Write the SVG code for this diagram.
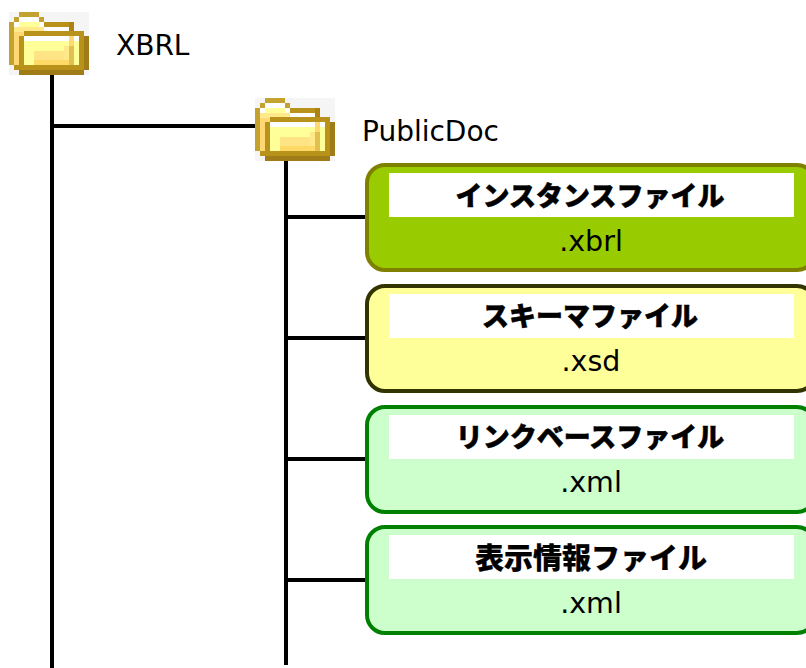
<svg xmlns="http://www.w3.org/2000/svg" width="806" height="668" viewBox="0 0 806 668">
<style>
.t{font-family:"DejaVu Sans","Noto Sans CJK JP",sans-serif;fill:#000}
.n{font-size:28px}
.e{font-size:28.5px;text-anchor:middle}
.h{font-family:"Noto Sans CJK JP",sans-serif;font-weight:900;font-size:27px;text-anchor:middle;fill:#000;stroke:#000;stroke-width:.5px}
.k{font-size:29px;stroke-width:.2px}
.w{stroke:#000;stroke-width:4;fill:none}
.b{stroke-width:4}
.g1{fill:#9c0;stroke:#808000}
.g2{fill:#ff9;stroke:#333300}
.g3{fill:#cfc;stroke:#008000}
</style>
<defs>
<g id="folder" shape-rendering="crispEdges">
<rect x="9" y="12" width="80" height="63" fill="#f5f5f5"/>
<rect x="9" y="22" width="5" height="43" fill="#c4a230"/>
<rect x="14" y="27" width="30" height="5" fill="#ffe98a"/>
<rect x="14" y="32" width="10" height="33" fill="#ffd873"/>
<rect x="19" y="12" width="20" height="5" fill="#c4a230"/>
<rect x="14" y="17" width="5" height="5" fill="#c4a230"/>
<rect x="39" y="17" width="5" height="5" fill="#c4a230"/>
<rect x="19" y="17" width="20" height="5" fill="#fff"/>
<rect x="14" y="22" width="5" height="5" fill="#fff"/>
<rect x="39" y="22" width="5" height="5" fill="#fff"/>
<rect x="19" y="22" width="20" height="5" fill="#ffff99"/>
<rect x="44" y="22" width="25" height="5" fill="#b8921a"/>
<rect x="69" y="22" width="5" height="9" fill="#ad8210"/>
<rect x="44" y="27" width="25" height="4" fill="#fff"/>
<rect x="24" y="31" width="60" height="5" fill="#b8921a"/>
<rect x="19" y="36" width="5" height="29" fill="#b8921a"/>
<rect x="79" y="36" width="5" height="29" fill="#b8921a"/>
<rect x="24" y="36" width="55" height="29" fill="#ffff99"/>
<rect x="24" y="36" width="45" height="5" fill="#fff"/>
<rect x="74" y="36" width="5" height="5" fill="#fff"/>
<rect x="69" y="36" width="5" height="10" fill="#ffd873"/>
<rect x="69" y="46" width="5" height="19" fill="#e0c050"/>
<rect x="64" y="46" width="5" height="14" fill="#ffe98a"/>
<rect x="34" y="51" width="30" height="9" fill="#ffe485"/>
<rect x="34" y="60" width="35" height="5" fill="#ffd965"/>
<rect x="14" y="65" width="70" height="5" fill="#b8921a"/>
<rect x="84" y="36" width="5" height="34" fill="#a07c18"/>
<rect x="19" y="70" width="65" height="5" fill="#a07c18"/>
</g>
</defs>
<g id="connectors">
<path class="w" d="M52 72V668M52 126H256M286 160V665M286 217H366M286 338H366M286 459H366M286 580H366"/>
</g>
<g id="xbrl"><use href="#folder"/><text class="t n" x="116" y="55">XBRL</text></g>
<g id="publicdoc"><use href="#folder" x="246" y="86"/><text class="t n" x="362" y="141">PublicDoc</text></g>
<g id="instance">
<rect class="b g1" x="367" y="165" width="448" height="105" rx="18"/>
<rect x="389" y="173" width="405" height="44" fill="#fff"/>
<text class="h" x="590" y="206">インスタンスファイル</text>
<text class="t e" x="591" y="251">.xbrl</text>
</g>
<g id="schema">
<rect class="b g2" x="367" y="286" width="448" height="105" rx="18"/>
<rect x="389" y="294" width="405" height="44" fill="#fff"/>
<text class="h" x="590" y="326">スキーマファイル</text>
<text class="t e" x="591" y="371">.xsd</text>
</g>
<g id="linkbase">
<rect class="b g3" x="367" y="407" width="448" height="105" rx="18"/>
<rect x="389" y="415" width="405" height="44" fill="#fff"/>
<text class="h" x="590" y="447">リンクベースファイル</text>
<text class="t e" x="591" y="492">.xml</text>
</g>
<g id="display">
<rect class="b g3" x="367" y="527" width="448" height="106" rx="18"/>
<rect x="389" y="535" width="405" height="44" fill="#fff"/>
<text class="h k" x="591" y="569">表示情報ファイル</text>
<text class="t e" x="591" y="613">.xml</text>
</g>
</svg>
